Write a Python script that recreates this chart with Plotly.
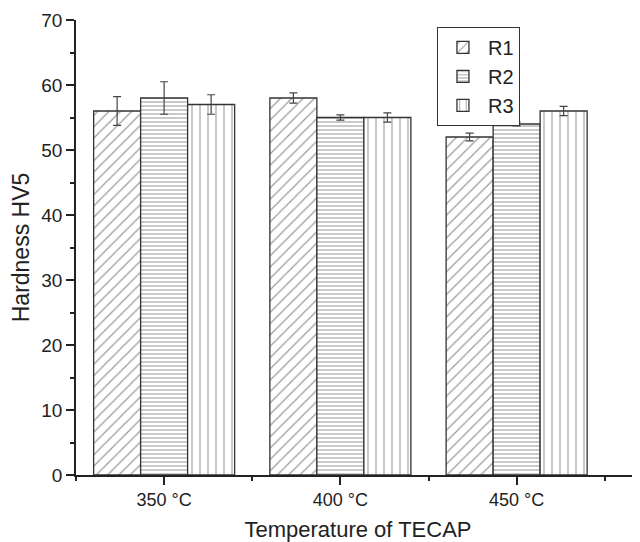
import plotly.graph_objects as go

categories = ["350 °C", "400 °C", "450 °C"]
series_names = ["R1", "R2", "R3"]
r1_values = [56, 58, 52]
r2_values = [58, 55, 54]
r3_values = [57, 55, 56]
r1_errors = [2.2, 0.8, 0.6]
r2_errors = [2.5, 0.4, 0.3]
r3_errors = [1.5, 0.7, 0.7]

values = [r1_values, r2_values, r3_values]
errors = [r1_errors, r2_errors, r3_errors]
patterns = [dict(shape="/", size=8, solidity=0.16),
            dict(shape="-", size=4, solidity=0.28),
            dict(shape="|", size=8, solidity=0.14)]

xpos = list(range(len(categories)))
fig = go.Figure()
for name, v, e, p in zip(series_names, values, errors, patterns):
    fig.add_trace(go.Bar(
        x=xpos, y=v, name=name,
        error_y=dict(type="data", array=e, color="#444", thickness=1.2, width=4),
        marker=dict(color="white", line=dict(color="#333", width=1.3),
                    pattern=dict(fgcolor="#3a3a3a", bgcolor="white", **p)),
    ))

font = "Liberation Sans, Arial, sans-serif"
fig.update_layout(
    width=632, height=534,
    margin=dict(l=68, r=0, t=12, b=67),
    plot_bgcolor="white", paper_bgcolor="white",
    barmode="group", bargap=0.2, bargroupgap=0,
    font=dict(family=font, size=18, color="#222"),
    legend=dict(x=0.64, y=0.985, xanchor="left", yanchor="top",
                bordercolor="#333", borderwidth=1, bgcolor="white",
                font=dict(size=20), tracegroupgap=0, itemwidth=40),
    showlegend=True,
)
fig.update_xaxes(
    range=[-0.5, 2.7], tickvals=xpos, ticktext=categories, automargin=False,
    showline=True, linecolor="#222", linewidth=1.5,
    ticks="outside", ticklen=8, tickwidth=1.5, tickcolor="#222",
    minor=dict(dtick=0.5, tick0=0.5, ticks="outside", ticklen=4, tickwidth=1.5, tickcolor="#222"),
    showgrid=False, zeroline=False,
    title=dict(text="Temperature of TECAP", font=dict(size=22)),
    tickfont=dict(size=18),
)
fig.update_yaxes(
    range=[0, 70], dtick=10, automargin=True,
    showline=True, linecolor="#222", linewidth=1.5,
    ticks="outside", ticklen=8, tickwidth=1.5, tickcolor="#222",
    minor=dict(dtick=5, ticks="outside", ticklen=4, tickwidth=1.5, tickcolor="#222"),
    showgrid=False, zeroline=False,
    title=dict(text="Hardness HV5", font=dict(size=23), standoff=6),
    tickfont=dict(size=19),
)
fig.write_html("out.html")
